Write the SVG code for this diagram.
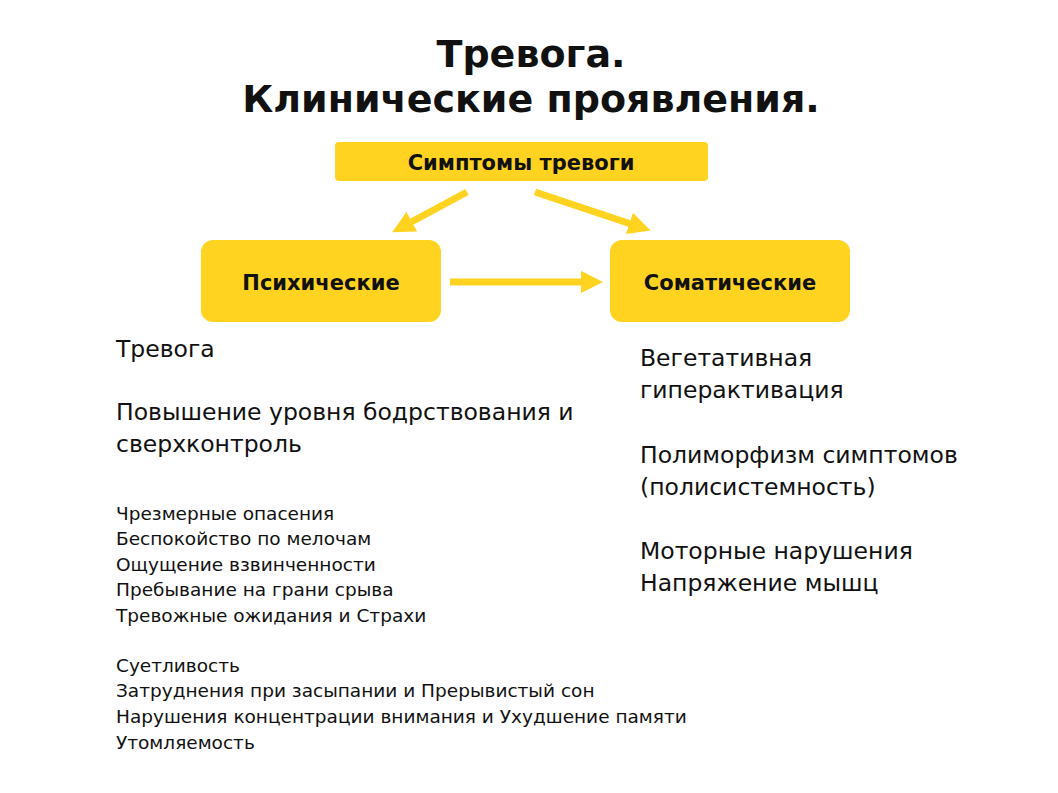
<svg xmlns="http://www.w3.org/2000/svg" width="1058" height="793" viewBox="0 0 1058 793">
<style>
text{font-family:"DejaVu Sans","Liberation Sans",sans-serif;fill:#111}
.t{font-size:38px;font-weight:bold;text-anchor:middle}
.b{fill:#FFD320}
.bl{font-weight:bold;text-anchor:middle}
.m{font-size:23.5px}
.s{font-size:18.5px}
.c{stroke:#FFD320;stroke-width:7;fill:none}
</style>
<defs><marker id="a" viewBox="0 0 10 10" refX="5" refY="5" markerWidth="3.2" markerHeight="3.2" orient="auto"><path d="M0,0L10,5L0,10z" fill="#FFD320"/></marker></defs>
<rect width="1058" height="793" fill="#fff"/>
<text class="t" x="531" y="67">Тревога.</text>
<text class="t" x="531" y="112">Клинические проявления.</text>
<g id="top"><rect class="b" x="335" y="142" width="373" height="39" rx="4"/><text class="bl" x="521" y="170" font-size="21">Симптомы тревоги</text></g>
<g id="psy"><rect class="b" x="201" y="240" width="240" height="82" rx="12"/><text class="bl" x="321" y="290" font-size="21">Психические</text></g>
<g id="som"><rect class="b" x="610" y="240" width="240" height="82" rx="12"/><text class="bl" x="730" y="290" font-size="21">Соматические</text></g>
<g id="connectors">
<line class="c" x1="467" y1="192" x2="402" y2="227" marker-end="url(#a)"/>
<line class="c" x1="535" y1="192" x2="640" y2="227" marker-end="url(#a)"/>
<line class="c" x1="450" y1="282" x2="592" y2="282" marker-end="url(#a)"/>
</g>
<g id="left">
<text class="m" x="116" y="357">Тревога</text>
<text class="m" x="116" y="420">Повышение уровня бодрствования и</text>
<text class="m" x="116" y="452">сверхконтроль</text>
<text class="s" x="116" y="520">Чрезмерные опасения</text>
<text class="s" x="116" y="545">Беспокойство по мелочам</text>
<text class="s" x="116" y="571">Ощущение взвинченности</text>
<text class="s" x="116" y="596">Пребывание на грани срыва</text>
<text class="s" x="116" y="622">Тревожные ожидания и Страхи</text>
<text class="s" x="116" y="672">Суетливость</text>
<text class="s" x="116" y="697">Затруднения при засыпании и Прерывистый сон</text>
<text class="s" x="116" y="723">Нарушения концентрации внимания и Ухудшение памяти</text>
<text class="s" x="116" y="749">Утомляемость</text>
</g>
<g id="right">
<text class="m" x="640" y="366">Вегетативная</text>
<text class="m" x="640" y="398">гиперактивация</text>
<text class="m" x="640" y="463">Полиморфизм симптомов</text>
<text class="m" x="640" y="495">(полисистемность)</text>
<text class="m" x="640" y="559">Моторные нарушения</text>
<text class="m" x="640" y="591">Напряжение мышц</text>
</g>
</svg>
